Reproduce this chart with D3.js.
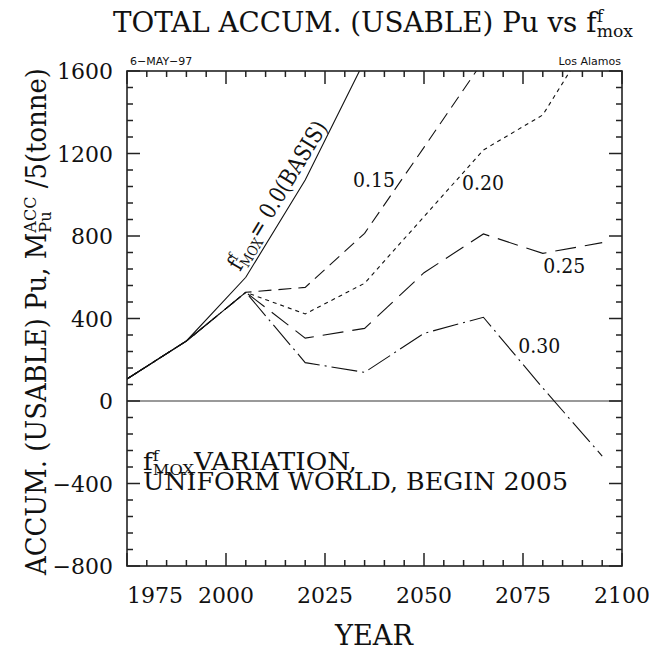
<!DOCTYPE html>
<html>
<head>
<meta charset="utf-8">
<script src="https://cdn.jsdelivr.net/npm/d3@7"></script>
<style>
  body { margin: 0; background: #fff; }
  svg { display: block; }
  .serif { font-family: "DejaVu Serif", "Liberation Serif", "Noto Serif", "Tinos", "Times New Roman", "FreeSerif", serif; fill: #111; }
  .sans { font-family: "DejaVu Sans", sans-serif; fill: #111; }
</style>
</head>
<body>
<div id="chart"></div>
<script>
// data (tonne / 5)
const years = [1975, 1990, 2005, 2020, 2035, 2050, 2065, 2080, 2095];
const basis = [107, 291, 600, 1071, 1650];
const f015 = [107, 291, 527, 551, 813, 1230, 1650];
const f020 = [107, 291, 527, 422, 571, 894, 1217, 1387, 1850];
const f025 = [107, 291, 527, 305, 352, 622, 810, 716, 768];
const f030 = [107, 291, 527, 186, 139, 328, 406, 63, -267];

const xTicks = [1975, 2000, 2025, 2050, 2075, 2100];
const yTicks = [-800, -400, 0, 400, 800, 1200, 1600];

const series = [
    {name: '0.0', values: basis, dash: null},
    {name: '0.15', values: f015, dash: '13,7'},
    {name: '0.20', values: f020, dash: '4,4'},
    {name: '0.25', values: f025, dash: '21,9'},
    {name: '0.30', values: f030, dash: '26,5,2,5'}
];

const curveLabels = [
    {text: '0.15', year: 2032.1, val: 1040},
    {text: '0.20', year: 2059.6, val: 1025},
    {text: '0.25', year: 2080.1, val: 622},
    {text: '0.30', year: 2073.8, val: 235}
];

const W = 649, H = 651;
const margin = {left: 127, right: 27, top: 71, bottom: 85};

const svg = d3.select('#chart').append('svg')
    .attr('width', W).attr('height', H);

const x = d3.scaleLinear().domain([1975, 2100]).range([margin.left, W - margin.right]);
const y = d3.scaleLinear().domain([-800, 1600]).range([H - margin.bottom, margin.top]);

// lay out text with stacked super/subscripts, returns width
function richText(g, parts, size) {
    let cx = 0;
    parts.forEach(p => {
        if (typeof p === 'string') {
            const t = g.append('text').attr('class', 'serif')
                .attr('x', cx).attr('y', 0)
                .style('font-size', size + 'px')
                .style('white-space', 'pre')
                .text(p);
            cx += t.node().getComputedTextLength();
        } else {
            const s = size * 0.62;
            const a = g.append('text').attr('class', 'serif')
                .attr('x', cx).attr('y', -size * 0.38)
                .style('font-size', s + 'px').text(p.sup);
            const b = g.append('text').attr('class', 'serif')
                .attr('x', cx).attr('y', size * 0.2)
                .style('font-size', s + 'px').text(p.sub);
            cx += Math.max(a.node().getComputedTextLength(), b.node().getComputedTextLength());
        }
    });
    return cx;
}

// rich text squeezed to a target width
function fitRich(parent, parts, size, target, place) {
    const outer = parent.append('g');
    const inner = outer.append('g');
    const w = richText(inner, parts, size);
    inner.attr('transform', `scale(${target / w},1)`);
    outer.attr('transform', place);
    return outer;
}

// clip
svg.append('clipPath').attr('id', 'plotClip')
    .append('rect')
    .attr('x', margin.left).attr('y', margin.top)
    .attr('width', W - margin.left - margin.right)
    .attr('height', H - margin.top - margin.bottom);

// zero line
svg.append('line')
    .attr('x1', x(1975)).attr('x2', x(2100))
    .attr('y1', y(0)).attr('y2', y(0))
    .attr('stroke', '#777').attr('stroke-width', 1.6);

// curves
const line = d3.line()
    .x((d, i) => x(years[i]))
    .y(d => y(d));

svg.append('g').attr('clip-path', 'url(#plotClip)')
    .selectAll('path')
    .data(series)
    .join('path')
    .attr('d', d => line(d.values))
    .attr('fill', 'none')
    .attr('stroke', '#111')
    .attr('stroke-width', 1.1)
    .attr('stroke-dasharray', d => d.dash);

// frame + ticks
const minorX = d3.range(1975, 2101, 5);
const minorY = d3.range(-800, 1601, 80);
const tickG = svg.append('g').attr('stroke', '#222').attr('stroke-width', 1.5);

minorX.forEach(v => {
    const len = (v % 25 === 0) ? 13 : 6;
    tickG.append('line').attr('x1', x(v)).attr('x2', x(v))
        .attr('y1', y(-800)).attr('y2', y(-800) - len);
    tickG.append('line').attr('x1', x(v)).attr('x2', x(v))
        .attr('y1', y(1600)).attr('y2', y(1600) + len);
});
minorY.forEach(v => {
    const len = (v % 400 === 0) ? 13 : 6;
    tickG.append('line').attr('x1', x(1975)).attr('x2', x(1975) + len)
        .attr('y1', y(v)).attr('y2', y(v));
    tickG.append('line').attr('x1', x(2100)).attr('x2', x(2100) - len)
        .attr('y1', y(v)).attr('y2', y(v));
});
svg.append('rect')
    .attr('x', x(1975)).attr('y', y(1600))
    .attr('width', x(2100) - x(1975)).attr('height', y(-800) - y(1600))
    .attr('fill', 'none').attr('stroke', '#222').attr('stroke-width', 1.6);

// tick labels
svg.append('g').selectAll('text')
    .data(xTicks)
    .join('text')
    .attr('class', 'serif')
    .attr('x', d => x(d))
    .attr('y', 603)
    .attr('text-anchor', (d, i) => i === 0 ? 'start' : 'middle')
    .style('font-size', '22px')
    .text(d => d);

svg.append('g').selectAll('text')
    .data(yTicks)
    .join('text')
    .attr('class', 'serif')
    .attr('x', 113)
    .attr('y', d => y(d) + 8)
    .attr('text-anchor', 'end')
    .style('font-size', '22px')
    .text(d => d < 0 ? '\u2212' + Math.abs(d) : d);

// axis titles
svg.append('text').attr('class', 'serif')
    .attr('x', 374).attr('y', 645)
    .attr('text-anchor', 'middle')
    .attr('textLength', 78).attr('lengthAdjust', 'spacingAndGlyphs')
    .style('font-size', '27px')
    .text('YEAR');

fitRich(svg, ['ACCUM. (USABLE) Pu, M', {sup: 'ACC', sub: 'Pu'}, ' /5(tonne)'], 27, 507,
    'translate(46,575) rotate(-90)');

// title
fitRich(svg, ['TOTAL ACCUM. (USABLE) Pu vs f', {sup: 'f', sub: 'mox'}], 27, 520,
    'translate(113,32)');

// header notes
svg.append('text').attr('class', 'sans')
    .attr('x', 130).attr('y', 65)
    .style('font-size', '11px')
    .text('6\u2212MAY\u221297');
svg.append('text').attr('class', 'sans')
    .attr('x', 621).attr('y', 65)
    .attr('text-anchor', 'end')
    .style('font-size', '11px')
    .text('Los Alamos');

// curve labels
svg.append('g').selectAll('text')
    .data(curveLabels)
    .join('text')
    .attr('class', 'serif')
    .attr('x', d => x(d.year))
    .attr('y', d => y(d.val))
    .attr('textLength', 42).attr('lengthAdjust', 'spacingAndGlyphs')
    .style('font-size', '20px')
    .text(d => d.text);

// basis label along the curve
fitRich(svg, ['f', {sup: 'f', sub: 'MOX'}, '= 0.0(BASIS)'], 23, 170,
    'translate(240,272) rotate(-58.7)');

// variation note
fitRich(svg, ['f', {sup: 'f', sub: 'MOX'}, 'VARIATION,'], 24, 214, 'translate(143,470)');
svg.append('text').attr('class', 'serif')
    .attr('x', 143).attr('y', 490)
    .attr('textLength', 425).attr('lengthAdjust', 'spacingAndGlyphs')
    .style('font-size', '24px')
    .text('UNIFORM WORLD, BEGIN 2005');
</script>
</body>
</html>
